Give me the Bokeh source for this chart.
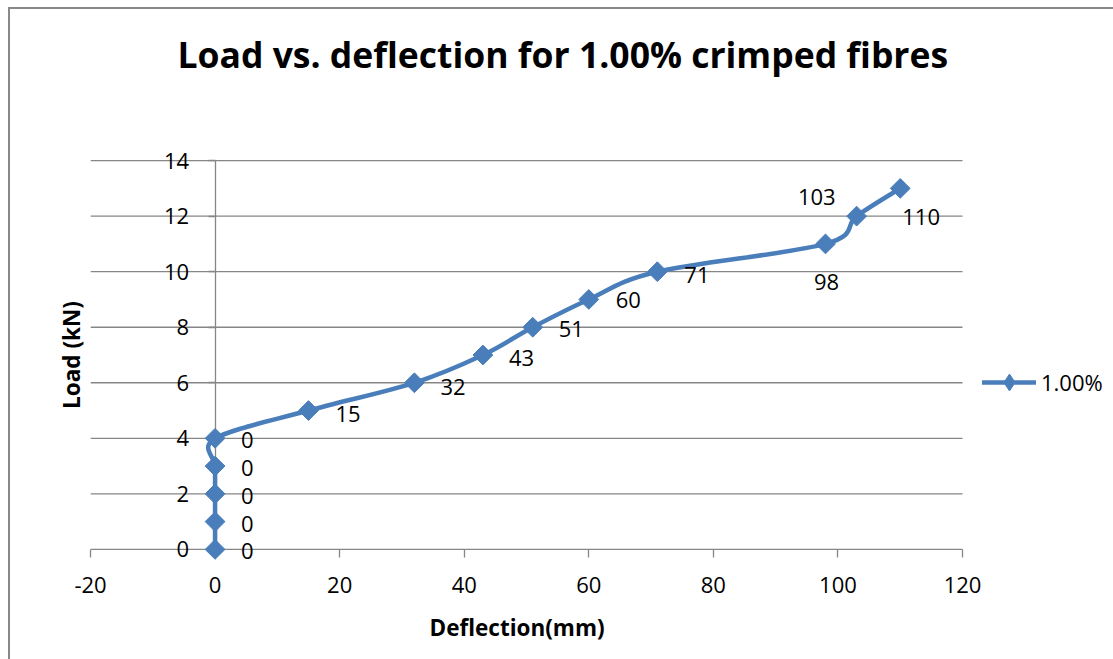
import math

from bokeh.core.properties import field, value
from bokeh.embed import file_html
from bokeh.models import (ColumnDataSource, FixedTicker, Grid, Legend, LegendItem,
                          LinearAxis, Title)
from bokeh.plotting import figure
from bokeh.resources import INLINE

# ---- data -------------------------------------------------------------
deflection_mm = [0, 0, 0, 0, 0, 15, 32, 43, 51, 60, 71, 98, 103, 110]
load_kn = [0, 1, 2, 3, 4, 5, 6, 7, 8, 9, 10, 11, 12, 13]
series_name = "1.00%"

x_ticks = [-20, 0, 20, 40, 60, 80, 100, 120]
x_tick_labels = ["-20", "0", "20", "40", "60", "80", "100", "120"]
y_ticks = [0, 2, 4, 6, 8, 10, 12, 14]
y_tick_labels = ["0", "2", "4", "6", "8", "10", "12", "14"]

# ---- styling ----------------------------------------------------------
BLUE = "#4a7ebb"
GRID = "#868686"
FONT = "Open Sans"

# pixel placement of each point's value label: (dx, dy downwards, anchor)
label_place = ([(26, 2, "left")] * 5 +
               [(27, 3, "left"), (26, 4, "left"), (26, 3, "left"), (26, 2, "left"),
                (27, 1, "left"), (27, 3, "left"), (1, 38, "center"),
                (-21, -19, "right"), (2, 29, "left")])

# ---- smoothed curve: Catmull-Rom segments expressed as cubic Beziers ---
n = len(deflection_mm)


def pt(i):
    i = min(max(i, 0), n - 1)
    return deflection_mm[i], load_kn[i]


seg = dict(x0=[], y0=[], x1=[], y1=[], cx0=[], cy0=[], cx1=[], cy1=[])
for i in range(n - 1):
    xa, ya = pt(i - 1)
    xb, yb = pt(i)
    xc, yc = pt(i + 1)
    xd, yd = pt(i + 2)
    seg["x0"].append(xb)
    seg["y0"].append(yb)
    seg["x1"].append(xc)
    seg["y1"].append(yc)
    seg["cx0"].append(xb + (xc - xa) / 6)
    seg["cy0"].append(yb + (yc - ya) / 6)
    seg["cx1"].append(xc - (xd - xb) / 6)
    seg["cy1"].append(yc - (yd - yb) / 6)

# ---- figure -----------------------------------------------------------
# The plot area reaches the right edge so the legend sits inside it; axis and
# grid lines are bounded to -20..120.  The load range has a little head-room
# so the 0 and 14 tick labels stay whole.
p = figure(width=1113, height=659,
           x_range=(-20, 144.24), y_range=(-0.4, 14.4),
           output_backend="svg", toolbar_location=None,
           x_axis_location=None, y_axis_location=None,
           min_border_left=90, min_border_right=0,
           min_border_top=149, min_border_bottom=99,
           border_fill_color=None, background_fill_color=None,
           outline_line_color=None)

# no default full-width grids; the grid lines are drawn below
p.center = [c for c in p.center if not isinstance(c, Grid)]

# chart-area border (left and top edges)
p.styles = {
    "background": ("linear-gradient(#898989,#898989) 8px 7px / 2px 100% no-repeat, "
                   "linear-gradient(#898989,#898989) 8px 7px / 100% 2px no-repeat, #ffffff"),
}

# blank band between the chart title and the plot area
gap = LinearAxis(ticker=FixedTicker(ticks=[x_ticks[0]]),
                 major_label_overrides={x_ticks[0]: ""},
                 major_label_text_font_size="1px", major_label_standoff=0,
                 axis_line_color=None, major_tick_line_color="#ffffff",
                 minor_tick_line_color=None, major_tick_out=72, major_tick_in=0)
p.add_layout(gap, "above")

p.title.text = "Load vs. deflection for 1.00% crimped fibres"
p.title.text_font = FONT
p.title.text_font_style = "bold"
p.title.text_font_size = "35.5px"
p.title.text_color = "black"
p.title.align = "left"
p.title.offset = 87
p.title.standoff = 0

# deflection axis; its line is the load = 0 grid line, ticks hang below it
xax = LinearAxis(ticker=FixedTicker(ticks=x_ticks), bounds=(x_ticks[0], x_ticks[-1]),
                 major_label_overrides=dict(zip(x_ticks, x_tick_labels)),
                 axis_line_color=None,
                 major_tick_line_color=GRID, major_tick_line_width=1.3,
                 major_tick_in=11, major_tick_out=-3,
                 minor_tick_line_color=None,
                 major_label_standoff=16,
                 major_label_text_font=FONT, major_label_text_font_size="22px",
                 major_label_text_color="black")
p.add_layout(xax, "below")

# deflection axis title, set under the -20..120 span
p.add_layout(Title(text="Deflection(mm)", align="left", offset=339, standoff=28,
                   text_font=FONT, text_font_style="bold",
                   text_font_size="22.5px", text_color="black"), "below")

# load axis crossing at deflection = 0
ya = LinearAxis(fixed_location=0, bounds=(y_ticks[0], y_ticks[-1]),
                ticker=FixedTicker(ticks=y_ticks),
                major_label_overrides=dict(zip(y_ticks, y_tick_labels)),
                axis_line_color=GRID, axis_line_width=1.3,
                major_tick_line_color=GRID, major_tick_line_width=1.3,
                major_tick_out=7, major_tick_in=0,
                minor_tick_line_color=None,
                major_label_standoff=19,
                major_label_text_font=FONT, major_label_text_font_size="22px",
                major_label_text_color="black")
p.add_layout(ya, "left")

# title of the load axis, at the left edge of the plot area
ytitle = LinearAxis(ticker=FixedTicker(ticks=[]), bounds=(y_ticks[0], y_ticks[-1]),
                    axis_line_color=None, major_tick_line_color=None,
                    minor_tick_line_color=None, major_tick_out=0, major_tick_in=0,
                    major_label_standoff=0,
                    axis_label="Load (kN)", axis_label_standoff=4,
                    axis_label_text_font=FONT, axis_label_text_font_style="bold",
                    axis_label_text_font_size="22.5px", axis_label_text_color="black")
p.add_layout(ytitle, "left")

# horizontal grid lines across the -20..120 span
p.segment(x0=[x_ticks[0]] * len(y_ticks), x1=[x_ticks[-1]] * len(y_ticks),
          y0=y_ticks, y1=y_ticks, line_color=GRID, line_width=1.3,
          level="underlay")

# ---- series -----------------------------------------------------------
# diamond key marker for the legend, lying under the drawn markers
key_mark = p.scatter(deflection_mm, load_kn, marker="diamond", size=16,
                     fill_color=BLUE, line_color=BLUE)

curve = p.bezier(source=ColumnDataSource(seg), x0="x0", y0="y0", x1="x1", y1="y1",
                 cx0="cx0", cy0="cy0", cx1="cx1", cy1="cy1",
                 line_color=BLUE, line_width=4.5, line_cap="round",
                 level="overlay")

marks = p.scatter(deflection_mm, load_kn, marker="square", angle=math.pi / 4,
                  size=14, fill_color=BLUE, line_color=BLUE, level="overlay")

lab_src = ColumnDataSource(dict(
    x=deflection_mm, y=load_kn,
    text=[str(v) for v in deflection_mm],
    dx=[d[0] for d in label_place],
    dy=[d[1] for d in label_place],
    anchor=[d[2] for d in label_place],
))
p.text(source=lab_src, x="x", y="y", text="text",
       x_offset="dx", y_offset="dy",
       text_align=field("anchor"), text_baseline="middle",
       text_font=value(FONT), text_font_size="22px",
       text_color="black", level="overlay")

legend = Legend(items=[LegendItem(label=series_name, renderers=[curve, key_mark])],
                location=(892, 157), border_line_color=None,
                background_fill_color=None, background_fill_alpha=0,
                padding=0, margin=0,
                glyph_width=54, glyph_height=42, label_height=22,
                label_standoff=5, label_text_font=FONT,
                label_text_font_size="22px", label_text_color="black")
p.add_layout(legend)

open("out.html", "w").write(file_html(p, INLINE))
